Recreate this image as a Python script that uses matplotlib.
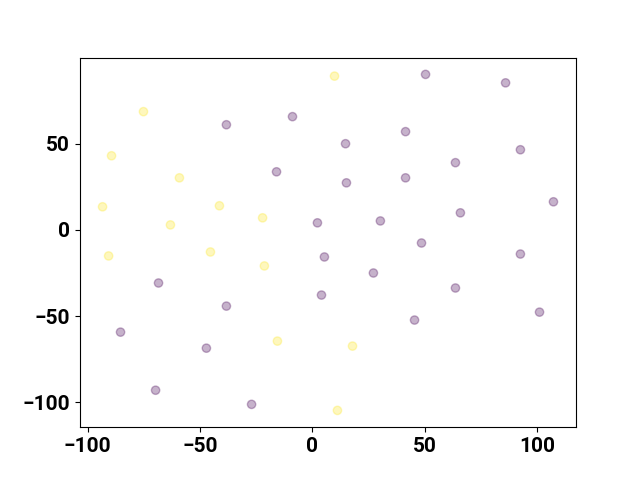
import numpy as np
import matplotlib.pyplot as plt

plt.rcParams['font.family'] = ['Roboto', 'DejaVu Sans']
plt.rcParams['font.weight'] = 'bold'
plt.rcParams['font.size'] = 15

# cluster 0 (purple)
x0 = [50.3, 85.9, -38.3, -8.9, 41.4, 14.7, 92.5, 63.6, -16.0, 15.1, 41.4, 107.2,
      65.8, 30.2, 2.2, 48.5, 5.3, 92.5, 27.1, -68.5, 63.6, 4.0, -38.3, 101.0,
      45.4, -85.4, -47.2, -69.8, -27.1]
y0 = [90.2, 85.3, 61.0, 65.7, 57.0, 50.0, 46.5, 39.0, 33.7, 27.3, 30.2, 16.3,
      9.9, 5.2, 4.1, -7.6, -15.7, -14.0, -25.0, -30.8, -33.7, -37.8, -44.2, -47.7,
      -52.3, -59.3, -68.6, -93.0, -101.2]

# cluster 1 (yellow)
x1 = [9.8, -75.2, -89.4, -59.2, -93.4, -41.4, -22.2, -63.2, -90.7, -45.4,
      -21.4, -15.6, 17.8, 11.1]
y1 = [89.2, 68.6, 43.0, 30.2, 13.4, 14.0, 7.0, 2.9, -15.1, -12.8,
      -20.9, -64.5, -67.4, -104.7]

x = np.array(x0 + x1)
y = np.array(y0 + y1)
labels = np.array([0] * len(x0) + [1] * len(x1))

fig = plt.figure(figsize=(6.4, 4.8), dpi=100)
plt.scatter(x, y, c=labels, cmap='viridis', alpha=0.3)
plt.savefig('out.png')
